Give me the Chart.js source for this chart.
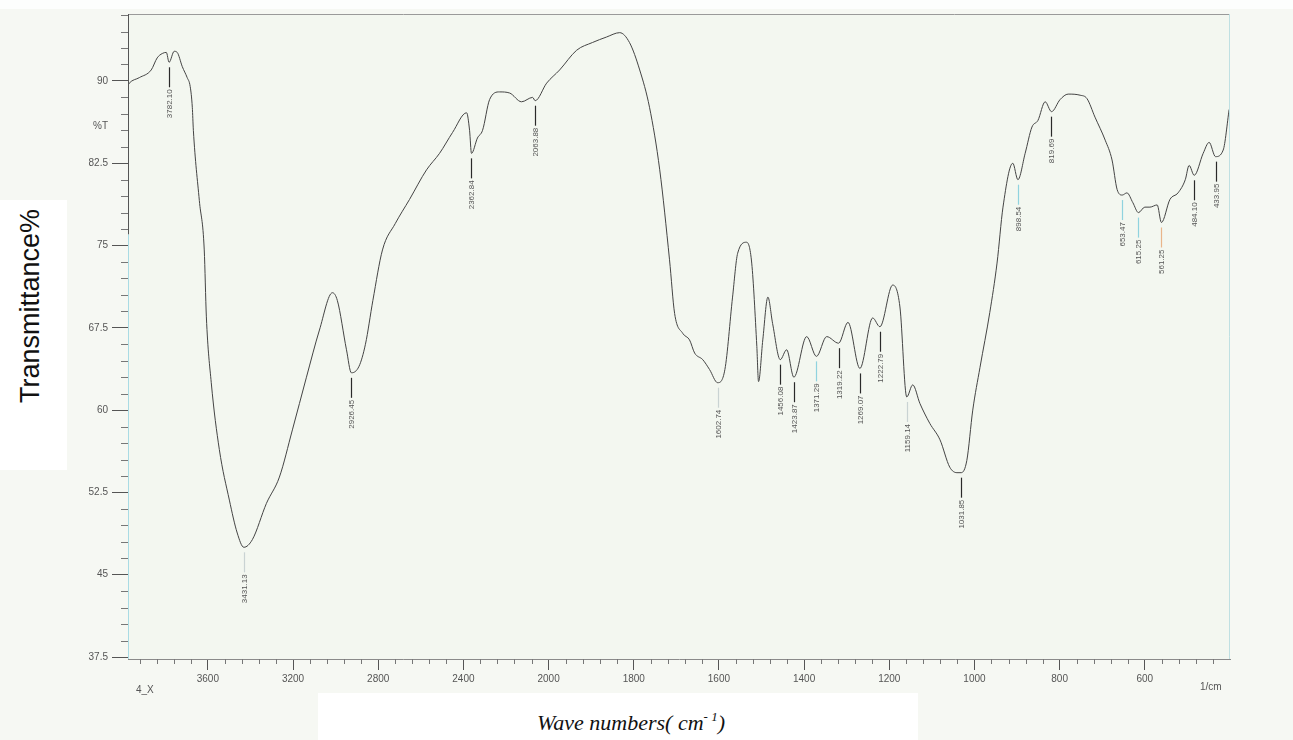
<!DOCTYPE html>
<html>
<head>
<meta charset="utf-8">
<script src="https://cdn.jsdelivr.net/npm/chart.js@4.4.1/dist/chart.umd.min.js"></script>
<style>
  html,body{margin:0;padding:0;background:#f6f8f3;overflow:hidden;}
  #wrap{position:relative;width:1293px;height:740px;}
  #c{position:absolute;left:0;top:0;}
  #ytitle{position:absolute;left:0;top:200px;width:67px;height:270px;background:#fff;}
  #ytitle span{position:absolute;left:30px;top:106px;transform:translate(-50%,-50%) rotate(-90deg);white-space:nowrap;
    font-family:"Liberation Sans",Arial,sans-serif;font-size:27px;color:#111;}
  #xtitle{position:absolute;left:318px;top:693px;width:600px;height:47px;background:#fff;}
  #xtitle span{position:absolute;left:313px;top:29px;transform:translate(-50%,-50%);white-space:nowrap;
    font-family:"Liberation Serif","Times New Roman",serif;font-style:italic;font-size:22px;color:#111;}
  #xtitle sup{font-size:13px;vertical-align:9px;}
</style>
</head>
<body>
<div id="wrap">
  <canvas id="c" width="1293" height="740"></canvas>
  <div id="ytitle"><span>Transmittance%</span></div>
  <div id="xtitle"><span>Wave numbers( cm<sup>- 1</sup>)</span></div>
</div>
<script>
// ---- data ----
const WAVENUMBER = [3975,3969,3922,3866,3838,3814,3795,3782,3758,3744,3720,3697,3683,3673,3668,3640,3617,3607,3584,3546,3499,3462,3431,3391,3325,3264,3203,3137,3076,3015,2992,2949,2926,2890,2860,2825,2780,2720,2653,2573,2512,2451,2385,2371,2362,2334,2310,2277,2230,2183,2127,2075,2063,2009,1974,1934,1897,1864,1833,1810,1786,1763,1739,1716,1704,1685,1669,1657,1638,1622,1603,1586,1568,1556,1535,1523,1511,1507,1497,1485,1474,1456,1441,1424,1394,1371,1347,1319,1297,1269,1239,1222,1192,1175,1159,1145,1128,1105,1081,1058,1041,1031,1018,1004,987,964,947,933,910,898,881,865,851,834,819,799,780,752,736,717,693,677,665,653,642,628,615,600,588,571,561,541,522,505,496,484,463,449,434,416,402];
const TRANSMITTANCE = [89.6,89.8,90.3,91.0,92.1,92.5,92.6,91.7,92.7,92.6,91.3,90.3,89.5,87.6,85.5,79.1,74.6,68.5,62.5,56.4,51.8,48.8,47.5,48.2,51.5,53.9,58.2,63.0,67.3,70.7,70.0,65.5,63.4,64.0,66.0,70.0,74.6,77.0,79.2,81.9,83.4,85.3,87.1,85.5,83.4,84.8,85.5,88.3,89.0,88.9,88.1,88.5,88.2,89.8,91.0,92.8,93.5,94.0,94.4,93.5,91.0,87.6,81.9,73.7,68.8,67.0,66.4,65.2,64.6,63.7,62.5,63.7,70.3,74.3,75.3,73.4,65.8,62.6,66.4,70.3,67.9,64.6,65.5,63.0,66.7,64.9,66.7,66.1,68.0,63.8,68.4,67.6,71.4,69.4,61.2,62.3,60.6,58.8,57.3,54.8,54.3,54.3,55.4,60.0,63.9,68.9,73.4,78.5,82.5,81.0,83.4,85.8,86.4,88.1,87.2,88.3,88.8,88.7,88.4,86.7,84.6,82.8,80.1,79.6,79.8,78.9,78.0,78.5,78.5,78.7,77.1,79.2,79.8,81.0,82.3,81.4,83.4,84.4,83.1,83.7,87.4];

const PEAK_LABELS = ["3782.10","3431.13","2926.45","2362.84","2063.88","1602.74","1456.08","1423.87","1371.29","1319.22","1269.07","1222.79","1159.14","1031.85","898.54","819.69","653.47","615.25","561.25","484.10","433.95"];
const PEAK_WN = [3782.10,3431.13,2926.45,2362.84,2063.88,1602.74,1456.08,1423.87,1371.29,1319.22,1269.07,1222.79,1159.14,1031.85,898.54,819.69,653.47,615.25,561.25,484.10,433.95];
const PEAK_T = [91.7,47.5,63.4,83.4,88.2,62.5,64.6,63.0,64.9,66.1,63.8,67.6,61.2,54.3,81.0,87.2,79.6,78.0,77.1,81.4,83.1];
const PEAK_LINE_KIND = ["k","l","k","k","k","l","k","k","c","k","k","k","l","k","c","k","c","c","o","k","k"];

const X_TICKS = [3600,3200,2800,2400,2000,1800,1600,1400,1200,1000,800,600];
const Y_TICKS = [37.5,45,52.5,60,67.5,75,82.5,90];
const X_MIN = 400, X_MAX = 3975, X_BREAK = 2000;
const Y_MIN = 37.32, Y_MAX = 96.1;

// ---- Shimadzu-style split wavenumber scale (half density above 2000 cm-1) ----
function irT(v){ return v <= X_BREAK ? v : X_BREAK + (v - X_BREAK) / 2; }
function irInv(u){ return u <= X_BREAK ? u : X_BREAK + (u - X_BREAK) * 2; }
class IRScale extends Chart.LinearScale {
  getPixelForValue(value){
    const a = irT(this.min), b = irT(this.max);
    return this.getPixelForDecimal((irT(value) - a) / (b - a));
  }
  getValueForPixel(pixel){
    const a = irT(this.min), b = irT(this.max);
    return irInv(a + this.getDecimalForPixel(pixel) * (b - a));
  }
}
IRScale.id = 'irscale';
IRScale.defaults = Chart.LinearScale.defaults;
Chart.register(IRScale);

const LINE_COLORS = {k:'#2a2a2a', l:'#c9d3d3', c:'#8fd3df', o:'#e9b58a'};
const TICK_COLOR = '#555';

const decor = {
  id:'decor',
  beforeDraw(chart){
    const {ctx, chartArea:a} = chart;
    ctx.save();
    ctx.fillStyle = '#f6f8f3';
    ctx.fillRect(0,0,chart.width,chart.height);
    ctx.fillStyle = '#fdfefd';
    ctx.fillRect(0,0,chart.width,9);
    ctx.fillStyle = '#f3f7f0';
    ctx.fillRect(a.left,a.top,a.right-a.left,a.bottom-a.top);
    ctx.restore();
  },
  afterDraw(chart){
    const {ctx, chartArea:a, scales:{x,y}} = chart;
    ctx.save();
    ctx.lineWidth = 1;
    ctx.strokeStyle = '#9a9a9a';
    ctx.beginPath(); ctx.moveTo(a.left, a.top+0.5); ctx.lineTo(a.right, a.top+0.5); ctx.stroke();
    ctx.strokeStyle = '#bfe0e2';
    ctx.beginPath(); ctx.moveTo(a.right-0.5, a.top); ctx.lineTo(a.right-0.5, a.bottom); ctx.stroke();
    const ySplit = y.getPixelForValue(76);
    ctx.strokeStyle = '#555';
    ctx.beginPath(); ctx.moveTo(a.left+0.5, a.top); ctx.lineTo(a.left+0.5, ySplit); ctx.stroke();
    ctx.strokeStyle = '#a9dbe4';
    ctx.beginPath(); ctx.moveTo(a.left+0.5, ySplit); ctx.lineTo(a.left+0.5, a.bottom); ctx.stroke();
    ctx.strokeStyle = '#777';
    ctx.beginPath();
    for (let v = 37.5; v <= Y_MAX; v += 1.5) {
      if (Y_TICKS.some(t => Math.abs(t - v) < 1e-6)) continue;
      const py = Math.round(y.getPixelForValue(v)) + 0.5;
      ctx.moveTo(a.left - 7, py); ctx.lineTo(a.left, py);
    }
    const xm = [];
    for (let v = 3600 + 80; v < X_MAX; v += 80) xm.push(v);
    for (let v = 2000; v <= 3600; v += 80) if (v % 400) xm.push(v);
    for (let v = 2000; v >= X_MIN; v -= 40) if (v % 200) xm.push(v);
    xm.forEach(v => {
      const px = Math.round(x.getPixelForValue(v)) + 0.5;
      ctx.moveTo(px, a.bottom); ctx.lineTo(px, a.bottom + 5);
    });
    ctx.stroke();
    ctx.fillStyle = '#555';
    ctx.font = '10px "Liberation Sans", Arial, sans-serif';
    ctx.textAlign = 'right'; ctx.textBaseline = 'middle';
    ctx.fillText('%T', 108, y.getPixelForValue(85.9));
    ctx.textAlign = 'left';
    ctx.fillText('4_X', 136, 690);
    ctx.fillText('1/cm', 1200, 687);
    ctx.font = '8px "Liberation Sans", Arial, sans-serif';
    PEAK_WN.forEach((w, i) => {
      const px = Math.round(x.getPixelForValue(w)) + 0.5;
      const py = y.getPixelForValue(PEAK_T[i]);
      const y0 = py + 5, y1 = y0 + 20;
      ctx.strokeStyle = LINE_COLORS[PEAK_LINE_KIND[i]];
      ctx.lineWidth = 1.2;
      ctx.beginPath(); ctx.moveTo(px, y0); ctx.lineTo(px, y1); ctx.stroke();
      ctx.save();
      ctx.translate(px, y1 + 2);
      ctx.rotate(-Math.PI/2);
      ctx.fillStyle = '#555';
      ctx.textAlign = 'right'; ctx.textBaseline = 'middle';
      ctx.fillText(PEAK_LABELS[i], 0, 0);
      ctx.restore();
    });
    ctx.restore();
  }
};

new Chart(document.getElementById('c'), {
  type: 'line',
  data: {
    datasets: [{
      data: WAVENUMBER.map((w, i) => ({x: w, y: TRANSMITTANCE[i]})),
      borderColor: '#444',
      borderWidth: 1,
      pointRadius: 0,
      cubicInterpolationMode: 'monotone',
      fill: false
    }]
  },
  plugins: [decor],
  options: {
    responsive: false,
    animation: false,
    events: [],
    layout: {padding: {top: 14, right: 63, left: 0, bottom: 0}},
    plugins: {legend: {display: false}, tooltip: {enabled: false}},
    scales: {
      x: {
        type: 'irscale',
        reverse: true,
        min: X_MIN, max: X_MAX,
        afterBuildTicks: s => { s.ticks = X_TICKS.map(v => ({value: v})); },
        afterFit: s => { s.height = 81; },
        border: {display: true, color: '#8a8a8a'},
        grid: {display: true, drawOnChartArea: false, drawTicks: true, tickLength: 11, tickColor: TICK_COLOR},
        ticks: {autoSkip: false, maxRotation: 0, padding: 3, color: '#555',
                font: {family: '"Liberation Sans", Arial, sans-serif', size: 10},
                callback: v => String(v)}
      },
      y: {
        type: 'linear',
        min: Y_MIN, max: Y_MAX,
        afterBuildTicks: s => { s.ticks = Y_TICKS.map(v => ({value: v})); },
        afterFit: s => { s.width = 128; },
        border: {display: false},
        grid: {display: true, drawOnChartArea: false, drawTicks: true, tickLength: 16, tickColor: TICK_COLOR},
        ticks: {autoSkip: false, padding: 4, color: '#555',
                font: {family: '"Liberation Sans", Arial, sans-serif', size: 10},
                callback: v => String(v)}
      }
    }
  }
});
</script>
</body>
</html>
